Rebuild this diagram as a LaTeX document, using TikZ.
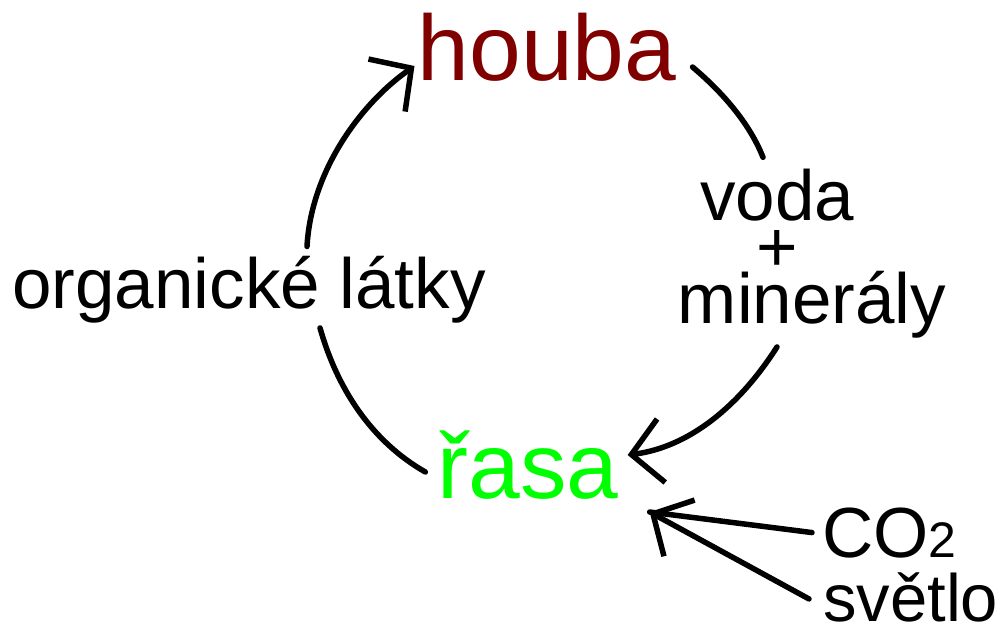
\documentclass[tikz,border=0pt]{standalone}
\usepackage{fontspec}
\setmainfont{Liberation Sans}
\usepackage{tikz}
\usetikzlibrary{arrows.meta}
\definecolor{houbared}{RGB}{128,0,0}
\definecolor{rasagreen}{RGB}{0,255,0}
\tikzstyle{every node}=[inner sep=0pt, anchor=base]

\begin{document}
\begin{tikzpicture}[
    x=1pt, y=-1pt,
    organism/.style={
        font=\fontsize{93pt}{100pt}\selectfont},
    substance/.style={
        font=\fontsize{71pt}{80pt}\selectfont},
    flowline/.style={
        line width=5.5pt,
        line cap=round},
    flowtip/.style={
        -{Straight Barb[length=30pt, width=64pt]}},
  ]
  \useasboundingbox (0,0) rectangle (1008,632);
  % Organisms
  \node[organism, text=houbared] (houba) at (547,80) {houba};
  \node[organism, text=rasagreen] (rasa) at (528,498) {řasa};
  % Substances
  \node[substance] (organicke) at (249,308) {organické látky};
  \node[substance] (voda) at (777,220) {voda};
  \node[substance] (plus) at (777,271) {+};
  \node[substance] (mineraly) at (812,323) {minerály};
  \node[substance, anchor=base west] (co2) at (822,557) {CO{\fontsize{50pt}{50pt}\selectfont 2}};
  \node[substance, anchor=base west, font=\fontsize{67pt}{74pt}\selectfont] (svetlo) at (823,621) {světlo};
  \coordinate (rasa-in) at ([shift={(31,14)}]rasa.base east);
  % Cycle
  \draw[flowline] ([shift={(-12,-26)}]rasa.base west)
    .. controls (371,441) and (337,388) .. ([shift={(71,5)}]organicke.south);
  \draw[flowline, flowtip] ([shift={(58,-9)}]organicke.north)
    .. controls (311,172) and (360,104) .. ([shift={(-3,-14)}]houba.base west);
  \draw[flowline] ([shift={(16,-13)}]houba.base east)
    .. controls (721,91) and (749,122) .. ([shift={(-14,-11)}]voda.north);
  \draw[flowline, flowtip] ([shift={(-35,9)}]mineraly.south)
    .. controls (740,405) and (690,447) .. ([shift={(9,-43)}]rasa.base east);
  % Inputs
  \draw[flowline] ([xshift=-10pt]co2.west) -- (rasa-in);
  \draw[flowline, flowtip] ([shift={(-14,2)}]svetlo.west) -- (rasa-in);
\end{tikzpicture}
\end{document}
